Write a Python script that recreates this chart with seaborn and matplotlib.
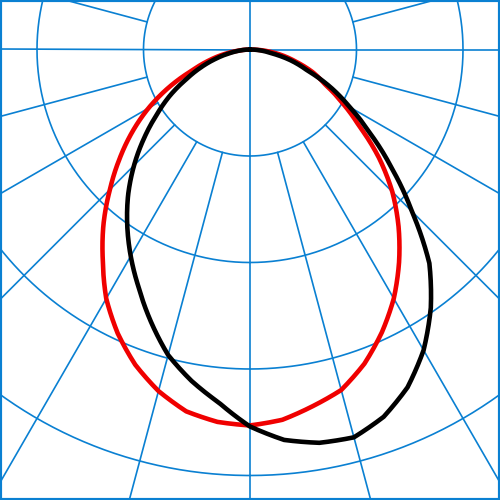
import numpy as np
import pandas as pd
import matplotlib
matplotlib.use("Agg")
import matplotlib.pyplot as plt
from matplotlib.patches import Rectangle
import seaborn as sns

# angles from nadir (degrees), negative = left side
angles = [-90, -85, -80, -75, -70, -65, -60, -55, -50, -45, -40, -35, -30, -25, -20, -15, -10, -5,
          0, 5, 10, 15, 20, 25, 30, 35, 40, 45, 50, 55, 60, 65, 70, 75, 80, 85, 90]
# red curve (intensity, grid circle spacing = 100)
red_values = [0, 9, 24, 40, 58, 84, 110, 135, 160, 186, 214, 241, 270, 294, 315, 332, 345, 351,
              353, 349, 340, 331, 314, 293, 270, 244, 217, 189, 158, 125, 100, 78, 63, 45, 30, 15, 0]
# black curve
black_values = [0, 8, 19, 33, 49, 66, 87, 107, 130, 154, 178, 201, 224, 247, 272, 297, 316, 333,
                354, 368, 375, 377, 367, 350, 326, 296, 262, 215, 174, 138, 108, 83, 57, 40, 21, 10, 0]
circle_radii = [100, 200, 300, 400]
spoke_step = 15

blue = "#0A80D2"
sns.set_theme(style="white")

W = 500.0
px_per_unit = 1.065
rmax = 500
cx, cy = 250.0, 500 - 49.5          # centre in figure pixels (from bottom)
rad_px = rmax * px_per_unit

fig = plt.figure(figsize=(5, 5), dpi=100)
ax = fig.add_axes([(cx - rad_px) / W, (cy - rad_px) / W, 2 * rad_px / W, 2 * rad_px / W],
                  projection="polar")
ax.set_theta_zero_location("S")
ax.set_theta_direction(1)
ax.set_rlim(0, rmax)
ax.grid(False)
ax.spines["polar"].set_visible(False)
ax.patch.set_alpha(0)

# grid circles
t = np.linspace(0, 2 * np.pi, 721)
for rc in circle_radii:
    ax.plot(t, np.full_like(t, rc), color=blue, lw=1.2, zorder=1)

# spokes
for a in range(0, 360, spoke_step):
    th = np.radians(a)
    r0 = 0 if a % 90 == 0 else circle_radii[0]
    ax.plot([th, th], [r0, rmax], color=blue, lw=1.2, zorder=1)

n_before = len(ax.lines)
th = np.radians(angles)
dr = pd.DataFrame({"theta": th, "r": red_values})
db = pd.DataFrame({"theta": th, "r": black_values})
sns.lineplot(data=dr, x="theta", y="r", sort=False, estimator=None, color="#F00000", lw=3.3, ax=ax, zorder=3)
sns.lineplot(data=db, x="theta", y="r", sort=False, estimator=None, color="#000000", lw=3.3, ax=ax, zorder=4)
# draw the segments following the polar geometry
for ln in ax.lines[n_before:]:
    ln.get_path()._interpolation_steps = 20
    ln.set_solid_joinstyle("round")
    ln.set_solid_capstyle("round")

ax.set_rlim(0, rmax)
ax.set_xlabel("")
ax.set_ylabel("")
ax.set_xticks([])
ax.set_yticks([])

fig.patches.append(Rectangle((0, 0), 1, 1, transform=fig.transFigure, fill=False,
                             edgecolor=blue, lw=3, zorder=10))

fig.savefig("out.png", dpi=100, facecolor="white")
